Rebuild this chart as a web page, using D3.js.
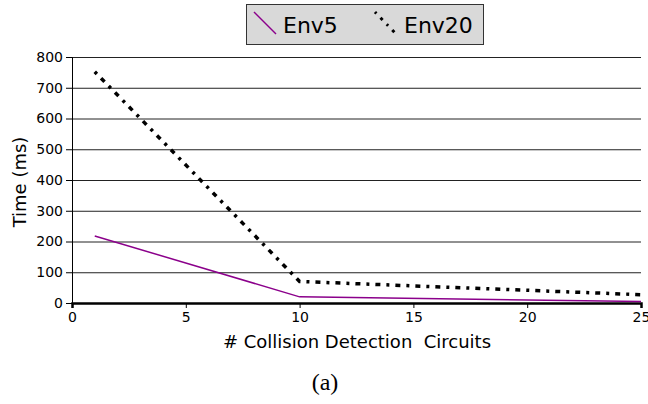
<!DOCTYPE html>
<html><head><meta charset="utf-8">
<script src="https://cdn.jsdelivr.net/npm/d3@7"></script>
<style>body{margin:0;background:#fff}svg{display:block}</style>
</head><body>
<svg id="c" width="648" height="404"></svg>
<script>
const xTicks = [0, 5, 10, 15, 20, 25];
const yTicks = [0, 100, 200, 300, 400, 500, 600, 700, 800];
const circuits = [1, 10, 25];
const env5 = [218, 20, 5];
const env20 = [752, 70, 27];
const seriesNames = ["Env5", "Env20"];

const svg = d3.select("#c");
const L = 72, R = 641, T = 57, B = 303;
const x = d3.scaleLinear().domain([0, 25]).range([L, R]);
const y = d3.scaleLinear().domain([0, 800]).range([B, T]);
const font = "DejaVu Sans, sans-serif";

// gridlines
svg.append("g").selectAll("line").data(yTicks.filter(d => d > 0)).join("line")
  .attr("x1", L).attr("x2", R).attr("y1", d => y(d) + 0.5).attr("y2", d => y(d) + 0.5)
  .attr("stroke", "#222").attr("stroke-width", 1);

// y axis
const ya = svg.append("g").attr("transform", `translate(${L},0)`)
  .call(d3.axisLeft(y).tickValues(yTicks).tickSize(6).tickPadding(3));
ya.select(".domain").attr("stroke", "#000");
ya.selectAll("text").attr("font-family", font).attr("font-size", 14).attr("fill", "#000");

// x axis
const xa = svg.append("g").attr("transform", `translate(0,${B})`)
  .call(d3.axisBottom(x).tickValues(xTicks).tickSize(5).tickPadding(4));
xa.select(".domain").attr("stroke", "#000").attr("stroke-width", 2.5);
xa.selectAll("text").attr("font-family", font).attr("font-size", 14).attr("fill", "#000");

const line = d3.line().x(d => x(d[0])).y(d => y(d[1]));
svg.append("path").datum(circuits.map((c, i) => [c, env5[i]]))
  .attr("d", line).attr("fill", "none").attr("stroke", "#8b008b").attr("stroke-width", 1.5);
svg.append("path").datum(circuits.map((c, i) => [c, env20[i]]))
  .attr("d", line).attr("fill", "none").attr("stroke", "#000").attr("stroke-width", 3.5)
  .attr("stroke-dasharray", "3,6,5,6");

// axis titles
svg.append("text").attr("x", 357).attr("y", 348).attr("text-anchor", "middle")
  .attr("font-family", font).attr("font-size", 18).attr("xml:space", "preserve")
  .text("# Collision Detection  Circuits");
svg.append("text").attr("transform", "translate(26,182) rotate(-90)").attr("text-anchor", "middle")
  .attr("font-family", font).attr("font-size", 18).text("Time (ms)");
svg.append("text").attr("x", 325).attr("y", 390).attr("text-anchor", "middle")
  .attr("font-family", "Liberation Serif, serif").attr("font-size", 24).text("(a)");

// legend
const lg = svg.append("g");
lg.append("rect").attr("x", 246.5).attr("y", 4.5).attr("width", 237).attr("height", 40)
  .attr("fill", "#d9d9d9").attr("stroke", "#333").attr("stroke-width", 1);
lg.append("line").attr("x1", 254).attr("y1", 12).attr("x2", 276).attr("y2", 34)
  .attr("stroke", "#8b008b").attr("stroke-width", 1.5);
lg.append("line").attr("x1", 375).attr("y1", 12).attr("x2", 396).attr("y2", 34)
  .attr("stroke", "#000").attr("stroke-width", 3).attr("stroke-dasharray", "2,6,3,6");
lg.append("text").attr("x", 283).attr("y", 33).attr("font-family", font).attr("font-size", 22).text(seriesNames[0]);
lg.append("text").attr("x", 404).attr("y", 33).attr("font-family", font).attr("font-size", 22).text(seriesNames[1]);
</script>
</body></html>
